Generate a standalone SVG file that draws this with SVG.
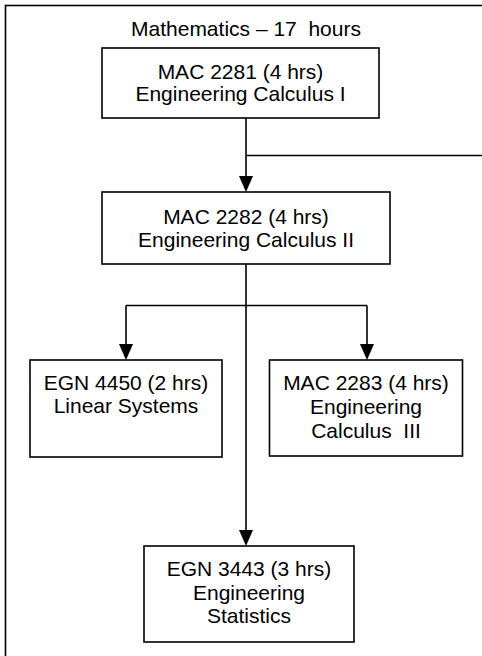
<svg xmlns="http://www.w3.org/2000/svg" width="482" height="656" viewBox="0 0 482 656">
<style>
  .box { fill: #ffffff; stroke: #000000; stroke-width: 1.6; }
  .t { font-family: "Liberation Sans", Arial, sans-serif; font-size: 21px; fill: #000000; text-anchor: middle; white-space: pre; }
  .c { fill: none; stroke: #000000; stroke-width: 1.6; }
  .ah { fill: #000000; }
</style>
<rect id="frame" x="5.5" y="5.5" width="500" height="700" fill="none" stroke="#000000" stroke-width="1.6"/>
<text id="title" class="t" x="246" y="36" xml:space="preserve">Mathematics – 17  hours</text>

<g id="connectors">
  <path class="c" d="M246,118 V178"/>
  <path class="c" d="M246,155.5 H482"/>
  <path class="c" d="M246,264 V532"/>
  <path class="c" d="M126,305.5 H367"/>
  <path class="c" d="M126,305.5 V346"/>
  <path class="c" d="M367,305.5 V346"/>
  <path class="ah" d="M239,176 L253,176 L246,192 Z"/>
  <path class="ah" d="M119,344 L133,344 L126,360 Z"/>
  <path class="ah" d="M360,344 L374,344 L367,360 Z"/>
  <path class="ah" d="M239,530 L253,530 L246,546 Z"/>
</g>

<g id="mac2281">
  <rect class="box" x="102" y="48" width="277" height="70"/>
  <text class="t" x="240.5" y="79">MAC 2281 (4 hrs)</text>
  <text class="t" x="240.5" y="101">Engineering Calculus I</text>
</g>
<g id="mac2282">
  <rect class="box" x="102" y="192" width="288" height="72"/>
  <text class="t" x="246" y="223.5">MAC 2282 (4 hrs)</text>
  <text class="t" x="246" y="246.5">Engineering Calculus II</text>
</g>
<g id="egn4450">
  <rect class="box" x="30" y="360" width="192" height="97"/>
  <text class="t" x="126" y="390">EGN 4450 (2 hrs)</text>
  <text class="t" x="126" y="413">Linear Systems</text>
</g>
<g id="mac2283">
  <rect class="box" x="269.5" y="360" width="193" height="96"/>
  <text class="t" x="366" y="390">MAC 2283 (4 hrs)</text>
  <text class="t" x="366" y="413.5">Engineering</text>
  <text class="t" x="366" y="437.5" xml:space="preserve">Calculus  III</text>
</g>
<g id="egn3443">
  <rect class="box" x="144" y="546" width="210" height="96"/>
  <text class="t" x="249" y="576">EGN 3443 (3 hrs)</text>
  <text class="t" x="249" y="599.5">Engineering</text>
  <text class="t" x="249" y="623">Statistics</text>
</g>
</svg>
